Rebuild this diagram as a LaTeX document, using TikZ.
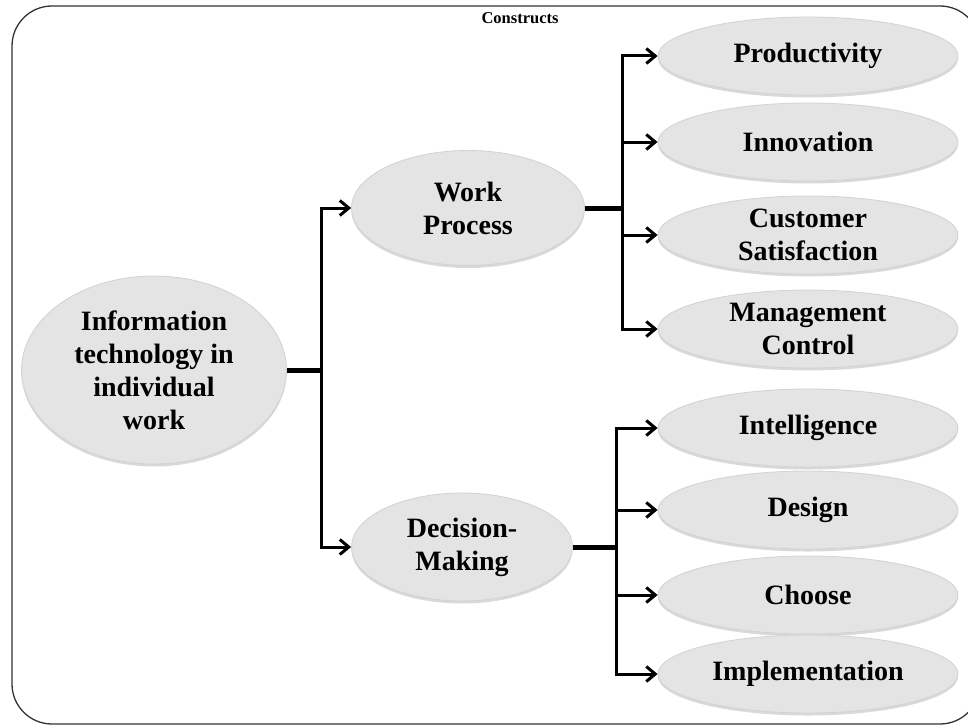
\documentclass[tikz,border=0pt]{standalone}
\usepackage{fontspec}
\setmainfont{Liberation Serif}
\usepackage{tikz}
\usetikzlibrary{
    calc,
    arrows.meta,
    shapes.geometric,
    shadows % soft shadow under the bubbles
}
\definecolor{bubblegray}{HTML}{E4E4E4}
\definecolor{rimgray}{HTML}{D2D2D2}
\newcommand{\bubblefont}{\fontsize{28}{33}\selectfont\bfseries}
\newcommand{\titlefont}{\fontsize{16.5}{20}\selectfont\bfseries}
\tikzset{
    bubble/.style={ellipse, fill=bubblegray, draw=rimgray, line width=0.8pt,
        inner sep=0pt, align=center, font=\bubblefont,
        drop shadow={shadow xshift=0pt, shadow yshift=-2.5pt, opacity=0.3}},
    leaf/.style={bubble, minimum width=300pt, minimum height=78pt},
    branch/.style={line width=3pt, -{Straight Barb[length=9pt,width=15pt]}},
    stub/.style={line width=5pt}
}

\begin{document}
\begin{tikzpicture}[x=1pt,y=-1pt]
        \useasboundingbox (0,0) rectangle (968,725);
        \draw[rounded corners=40pt, line width=1.3pt, draw=black!80] (12,6) rectangle (980,724);

        \draw (520,18) node(title){\titlefont Constructs};

        \draw (154,370) node[bubble, minimum width=265pt, minimum height=188pt](root){Information\\technology in\\individual\\work};
        \draw (468,208) node[bubble, minimum width=233pt, minimum height=115pt](work){Work\\Process};
        \draw (462,547) node[bubble, minimum width=221pt, minimum height=108pt](decide){Decision-\\Making};

        \draw (808,56)  node[leaf](prod){Productivity};
        \draw (808,142) node[leaf](innov){Innovation};
        \draw (808,235) node[leaf](cust){Customer\\Satisfaction};
        \draw (808,329) node[leaf](mgmt){Management\\Control};

        \draw (808,428) node[leaf](intel){Intelligence};
        \draw (808,510) node[leaf](design){Design};
        \draw (808,595) node[leaf](choose){Choose};
        \draw (808,674) node[leaf](impl){Implementation};

        % bus lines
        \coordinate (busA) at (321,0);
        \coordinate (busB) at (622,0);
        \coordinate (busC) at (616,0);

        \draw[stub] (root.east) -- (root.east -| busA);
        \foreach \n in {work,decide}
            \draw[branch] (root.east -| busA) |- (\n.west);

        \draw[stub] (work.east) -- (work.east -| busB);
        \foreach \n in {prod,innov,cust,mgmt}
            \draw[branch] (work.east -| busB) |- (\n.west);

        \draw[stub] (decide.east) -- (decide.east -| busC);
        \foreach \n in {intel,design,choose,impl}
            \draw[branch] (decide.east -| busC) |- (\n.west);
    \end{tikzpicture}
\end{document}
